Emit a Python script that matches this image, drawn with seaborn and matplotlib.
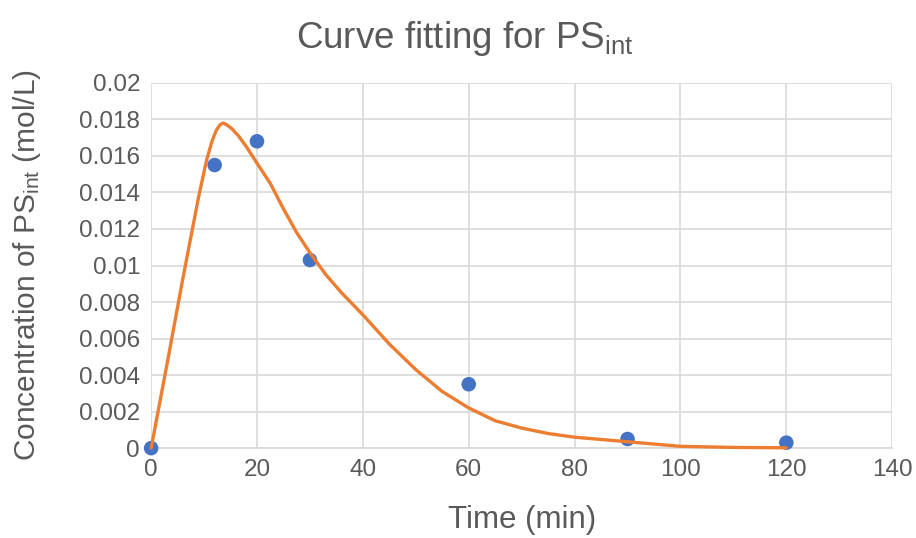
import matplotlib
matplotlib.use('Agg')
import matplotlib.pyplot as plt
import seaborn as sns
import pandas as pd

# measured points
time_min = [0, 12, 20, 30, 60, 90, 120]
conc = [0.0, 0.0155, 0.0168, 0.0103, 0.0035, 0.0005, 0.0003]

# fitted curve
fit_time = [0, 3, 6, 9, 10.5, 11.5, 12.3, 13, 13.6, 14.3, 15.2, 16.5, 18, 20, 22.5, 25,
            27.5, 30, 33, 36, 40, 45, 50, 55, 60, 65, 70, 75, 80, 90, 100, 110, 120]
fit_conc = [0.0, 0.0046, 0.0093, 0.0138, 0.0158, 0.0168, 0.0174, 0.0177, 0.0178,
            0.0177, 0.0175, 0.0171, 0.0165, 0.0156, 0.0145, 0.0131, 0.0118, 0.0107,
            0.0095, 0.0085, 0.0073, 0.0057, 0.0043, 0.0031, 0.0022, 0.0015, 0.0011,
            0.0008, 0.0006, 0.00035, 0.0001, 0.00004, 0.00002]

x_ticks = [0, 20, 40, 60, 80, 100, 120, 140]
y_ticks = [0, 0.002, 0.004, 0.006, 0.008, 0.01, 0.012, 0.014, 0.016, 0.018, 0.02]
y_labels = ['0', '0.002', '0.004', '0.006', '0.008', '0.01', '0.012', '0.014',
            '0.016', '0.018', '0.02']

sns.set_style('whitegrid')
plt.rcParams['font.family'] = ['Liberation Sans', 'DejaVu Sans']
plt.rcParams['mathtext.fontset'] = 'custom'
plt.rcParams['mathtext.rm'] = 'Liberation Sans'
plt.rcParams['mathtext.it'] = 'Liberation Sans'

text_col = '#595959'
grid_col = '#d9d9d9'

fig = plt.figure(figsize=(9.16, 5.38), dpi=100)
ax = fig.add_axes([0.165, 0.167, 0.809, 0.679])

pts = pd.DataFrame({'t': time_min, 'c': conc})
fit = pd.DataFrame({'t': fit_time, 'c': fit_conc})

sns.scatterplot(data=pts, x='t', y='c', ax=ax, color='#4472C4', s=110,
                edgecolor='none', zorder=3, clip_on=False)
sns.lineplot(data=fit, x='t', y='c', ax=ax, color='#ED7D31', linewidth=2.4,
             sort=False, zorder=4, clip_on=False)

ax.set_xlim(0, 140)
ax.set_ylim(0, 0.02)
ax.set_xticks(x_ticks)
ax.set_yticks(y_ticks)
ax.set_yticklabels(y_labels)
ax.tick_params(axis='both', labelsize=17.5, colors=text_col, length=0, pad=8)
ax.grid(True, color=grid_col, linewidth=1.2)
for side in ['top', 'right', 'left']:
    ax.spines[side].set_visible(False)
ax.spines['bottom'].set_color(grid_col)
ax.spines['bottom'].set_linewidth(1.2)

ax.set_xlabel('Time (min)', fontsize=22.5, color=text_col, va='center')
ax.xaxis.set_label_coords(0.5, -0.197)
ax.set_ylabel(r'Concentration of PS$_{\mathrm{int}}$ (mol/L)', fontsize=21.5,
              color=text_col, va='center')
ax.yaxis.set_label_coords(-0.167, 0.5)
fig.text(0.508, 0.929, r'Curve fitting for PS$_{\mathrm{int}}$', fontsize=26.5,
         color=text_col, ha='center', va='center')

plt.savefig('out.png', dpi=100)
